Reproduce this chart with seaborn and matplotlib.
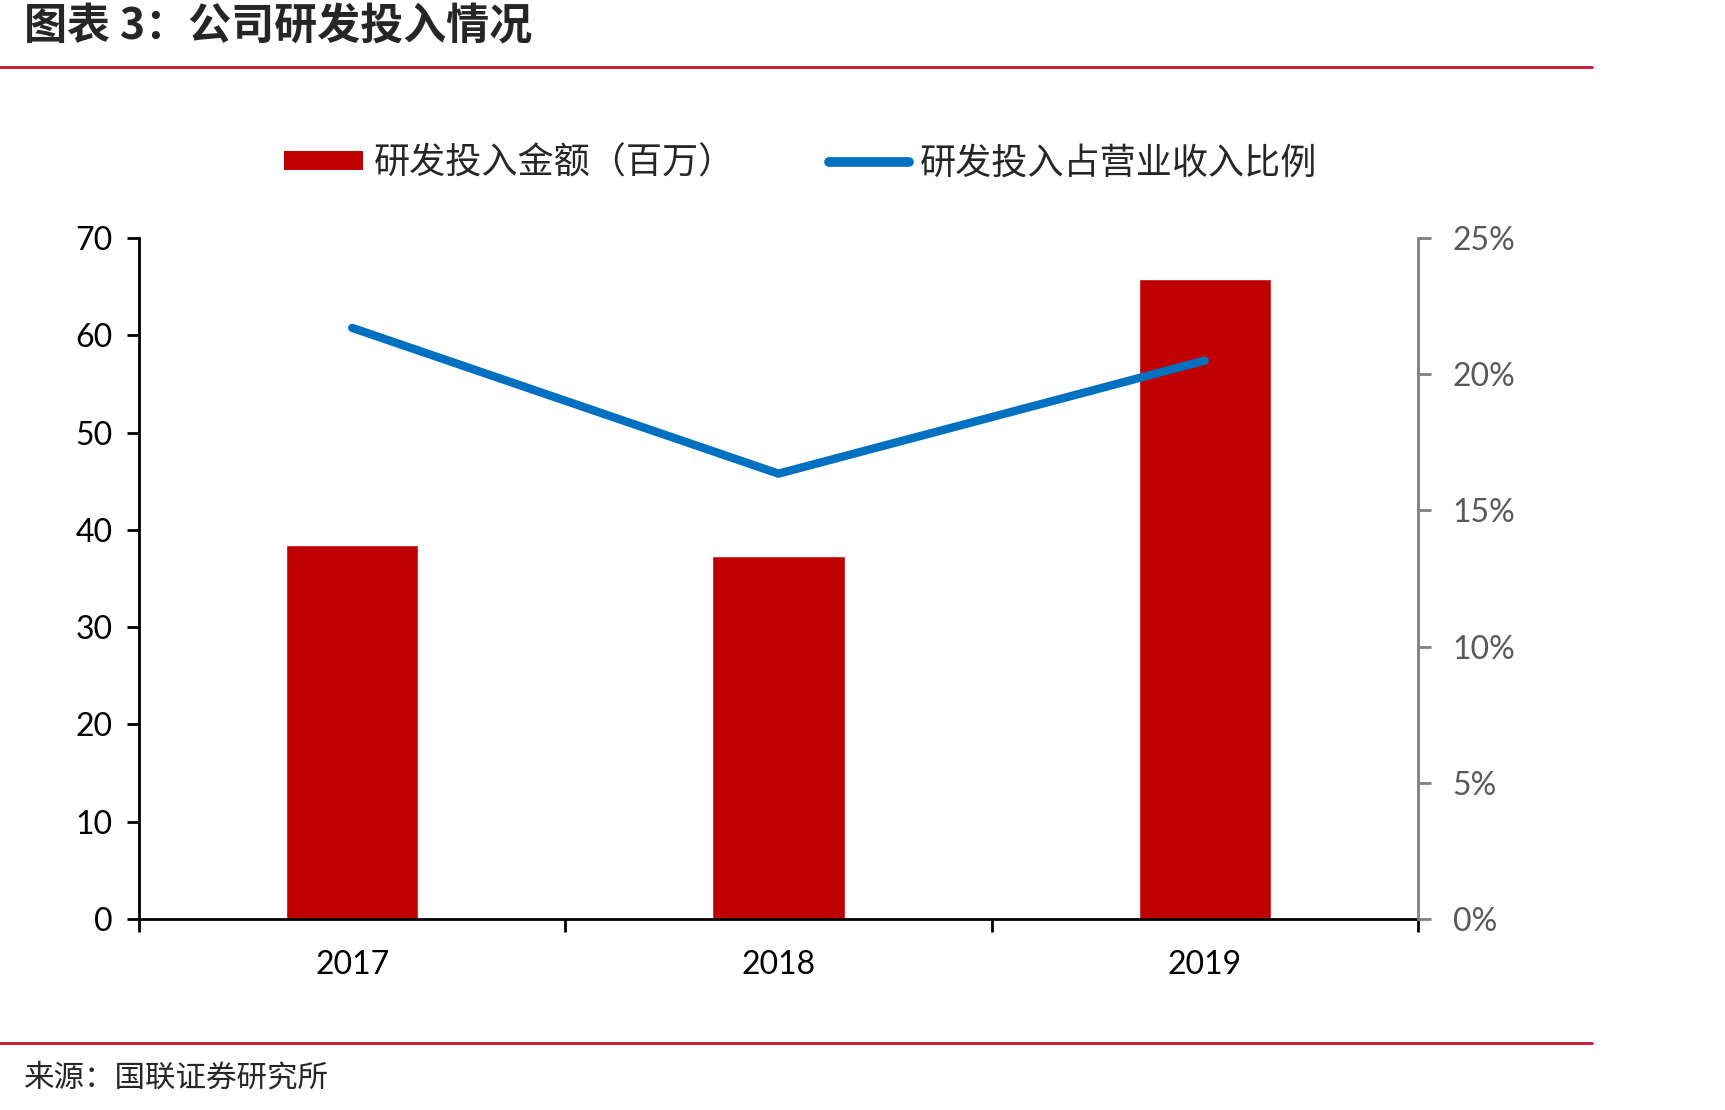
import matplotlib
matplotlib.use('Agg')
import matplotlib.pyplot as plt
import seaborn as sns
from matplotlib.lines import Line2D
from matplotlib.patches import Patch

# 数据
years = ['2017', '2018', '2019']
rd_amount = [38.4, 37.3, 65.8]          # 研发投入金额（百万）
rd_ratio = [21.7, 16.35, 20.5]          # 研发投入占营业收入比例（%）
left_ticks = [0, 10, 20, 30, 40, 50, 60, 70]
right_ticks = [0, 5, 10, 15, 20, 25]

sns.set_theme(style='white')
plt.rcParams['font.family'] = ['Lato', 'Noto Sans CJK SC', 'DejaVu Sans']
cjk = ['Noto Sans CJK SC', 'DejaVu Sans']

fig = plt.figure(figsize=(17.25, 11.1), dpi=100)
ax = fig.add_axes([0.0806, 0.172, 0.7414, 0.6136])

bar_color = '#C00000'
line_color = '#0070C0'

sns.barplot(x=years, y=rd_amount, color=bar_color, width=0.31, saturation=1, ax=ax)
ax.set_xlim(-0.5, len(years) - 0.5)
ax.set_ylim(0, 70)
ax.set_yticks(left_ticks)
ax.set_yticklabels([str(t) for t in left_ticks], fontsize=23, color='black')
ax.set_xticks([i - 0.5 for i in range(len(years) + 1)])
ax.set_xticklabels([''] * (len(years) + 1))
ax.set_xticks(range(len(years)), minor=True)
ax.set_xticklabels(years, minor=True, fontsize=23, color='black')
ax.tick_params(axis='x', which='minor', bottom=True, length=0, pad=22)
ax.tick_params(axis='x', which='major', bottom=True, length=9, width=2, color='black', direction='out')
ax.tick_params(axis='y', left=True, length=9, width=2, color='black', direction='out', pad=10)
ax.set_xlabel('')
ax.set_ylabel('')
for s in ['top', 'right']:
    ax.spines[s].set_visible(False)
for s in ['left', 'bottom']:
    ax.spines[s].set_color('black')
    ax.spines[s].set_linewidth(2)

ax2 = ax.twinx()
sns.lineplot(x=list(range(len(years))), y=rd_ratio, color=line_color, linewidth=6,
             solid_capstyle='round', ax=ax2)
ax2.set_ylim(0, 25)
ax2.set_yticks(right_ticks)
ax2.set_yticklabels([f'{t}%' for t in right_ticks], fontsize=23, color='#595959')
ax2.tick_params(axis='y', right=True, length=9, width=2, color='#808080', direction='out', pad=16)
ax2.set_ylabel('')
for s in ['top', 'left', 'bottom']:
    ax2.spines[s].set_visible(False)
ax2.spines['right'].set_color('#808080')
ax2.spines['right'].set_linewidth(2)
ax2.grid(False)
ax.grid(False)

handles = [Patch(facecolor=bar_color, edgecolor='none'),
           Line2D([0], [0], color=line_color, linewidth=7, solid_capstyle='round')]
labels = ['研发投入金额（百万）', '研发投入占营业收入比例']
fig.legend(handles, labels, loc='center', bbox_to_anchor=(0.464, 0.853), ncol=2,
           frameon=False, prop={'family': cjk, 'size': 26}, handlelength=2.2,
           handleheight=0.45, handletextpad=0.3, columnspacing=2.6)

# 标题与来源
fig.text(0.014, 0.976, '图表 3：公司研发投入情况', fontsize=31, fontweight='bold',
         family=cjk, va='center', ha='left', style='italic')
red = '#C8102E'
fig.add_artist(Line2D([0, 0.923], [0.9395, 0.9395], color=red, linewidth=2))
fig.add_artist(Line2D([0, 0.923], [0.0605, 0.0605], color=red, linewidth=2))
fig.text(0.014, 0.029, '来源：国联证券研究所', fontsize=22, family=cjk, va='center', ha='left')

fig.savefig('out.png', dpi=100)
